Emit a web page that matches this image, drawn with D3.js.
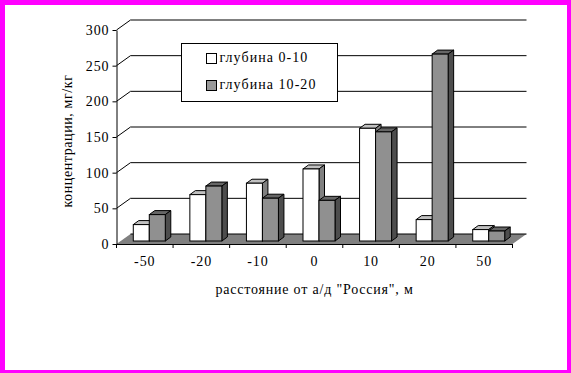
<!DOCTYPE html>
<html>
<head>
<meta charset="utf-8">
<script src="https://cdnjs.cloudflare.com/ajax/libs/d3/7.8.5/d3.min.js"></script>
<style>
  html, body { margin: 0; padding: 0; background: #fff; }
  svg { display: block; }
  text { font-family: "Liberation Serif", serif; fill: #000; }
</style>
</head>
<body>
<svg id="chart" width="571" height="373"></svg>
<script>
const categories = ["-50", "-20", "-10", "0", "10", "20", "50"];
const shallow = [23, 65, 81, 101, 158, 30, 16];
const deep = [37, 77, 60, 57, 153, 262, 14];
const yTicks = [0, 50, 100, 150, 200, 250, 300];
const seriesNames = ["глубина 0-10", "глубина 10-20"];

const W = 571, H = 373;
const svg = d3.select("#chart");

svg.append("rect").attr("width", W).attr("height", H).attr("fill", "#fff");

const x = d3.scaleBand().domain(categories).range([116.5, 512.5]);
const y = d3.scaleLinear().domain([0, 300]).range([244, 30]);

// 3d offsets: back wall, front of the bars, depth of the bars
const wall = { dx: 14, dy: -10 };
const front = { dx: 4.5, dy: -3 };
const depth = { dx: 5.5, dy: -4 };
const barW = 16;

// Grid on the wall
const grid = svg.append("g");
grid.selectAll("polyline").data(yTicks.slice(1)).join("polyline")
  .attr("points", d => `${x.range()[0]},${y(d)} ${x.range()[0] + wall.dx},${y(d) + wall.dy} ${x.range()[1] + wall.dx},${y(d) + wall.dy}`)
  .attr("fill", "none").attr("stroke", "#000").attr("stroke-width", 1);

// Floor
svg.append("polygon")
  .attr("points", [
    [x.range()[0], y(0)],
    [x.range()[1], y(0)],
    [x.range()[1] + wall.dx, y(0) + wall.dy],
    [x.range()[0] + wall.dx, y(0) + wall.dy]
  ].join(" "))
  .attr("fill", "#808080");
svg.append("line")
  .attr("x1", x.range()[0] + wall.dx).attr("x2", x.range()[1] + wall.dx)
  .attr("y1", y(0) + wall.dy).attr("y2", y(0) + wall.dy)
  .attr("stroke", "#000");

// Bars
function drawBar(g, i0, value, offset, faces) {
  const bx = x(i0) + (x.bandwidth() - 2 * barW) / 2 + front.dx + offset;
  const by0 = y(0) + front.dy;
  const by1 = y(value) + front.dy;
  const s = g.append("g").attr("stroke", "#000").attr("stroke-width", 1).attr("stroke-linejoin", "miter");
  s.append("polygon")
    .attr("points", [[bx, by1], [bx + barW, by1], [bx + barW + depth.dx, by1 + depth.dy], [bx + depth.dx, by1 + depth.dy]].join(" "))
    .attr("fill", faces.top);
  s.append("polygon")
    .attr("points", [[bx + barW, by1], [bx + barW, by0], [bx + barW + depth.dx, by0 + depth.dy], [bx + barW + depth.dx, by1 + depth.dy]].join(" "))
    .attr("fill", faces.side);
  s.append("rect")
    .attr("x", bx).attr("y", by1).attr("width", barW).attr("height", by0 - by1)
    .attr("fill", faces.face);
}

const bars = svg.append("g");
const whiteFaces = { face: "#fff", top: "#c0c0c0", side: "#808080" };
const grayFaces = { face: "#909090", top: "#666", side: "#4d4d4d" };
categories.forEach((c, i) => {
  drawBar(bars, c, shallow[i], 0, whiteFaces);
  drawBar(bars, c, deep[i], barW, grayFaces);
});

// Axes
const yAxis = svg.append("g")
  .attr("transform", `translate(${x.range()[0]},0)`)
  .call(d3.axisLeft(y).tickValues(yTicks).tickSize(4).tickPadding(3).tickSizeOuter(0));
const xAxis = svg.append("g")
  .attr("transform", `translate(0,${y(0)})`)
  .call(d3.axisBottom(x).tickSize(0).tickPadding(12));
xAxis.selectAll(".boundary").data(d3.range(categories.length + 1)).join("line")
  .attr("class", "boundary")
  .attr("x1", d => x.range()[0] + d * x.step()).attr("x2", d => x.range()[0] + d * x.step())
  .attr("y1", 0).attr("y2", 4).attr("stroke", "#000");
[yAxis, xAxis].forEach(a => {
  a.selectAll("text").style("font-size", "14px").style("letter-spacing", "0.9px").style("font-family", "Liberation Serif");
  a.select(".domain").attr("stroke", "#000");
});

// Axis titles
svg.append("text")
  .attr("x", 314.5).attr("y", 294)
  .attr("text-anchor", "middle").style("font-size", "14px").style("letter-spacing", "0.8px")
  .text('расстояние от а/д "Россия", м');
svg.append("text")
  .attr("transform", "translate(72,141) rotate(-90)")
  .attr("text-anchor", "middle").style("font-size", "14px").style("letter-spacing", "0.6px")
  .text("концентрации, мг/кг");

// Legend
const legend = svg.append("g").attr("transform", "translate(181.5,43.5)");
legend.append("rect").attr("width", 156).attr("height", 58).attr("fill", "#fff").attr("stroke", "#000");
seriesNames.forEach((name, i) => {
  const row = legend.append("g").attr("transform", `translate(25,${10 + i * 27})`);
  row.append("rect").attr("width", 10).attr("height", 10)
    .attr("fill", i ? "#999" : "#fff").attr("stroke", "#000");
  row.append("text").attr("x", 13).attr("y", 8).style("font-size", "14px").style("letter-spacing", "1.05px").text(name);
});

// Magenta frame: 5px left and top, 4px right, 3px bottom
svg.append("path")
  .attr("d", `M0,0H${W}V${H}H0Z M5,5V${H - 3}H${W - 4}V5Z`)
  .attr("fill", "#ff00ff").attr("fill-rule", "evenodd");
</script>
</body>
</html>
